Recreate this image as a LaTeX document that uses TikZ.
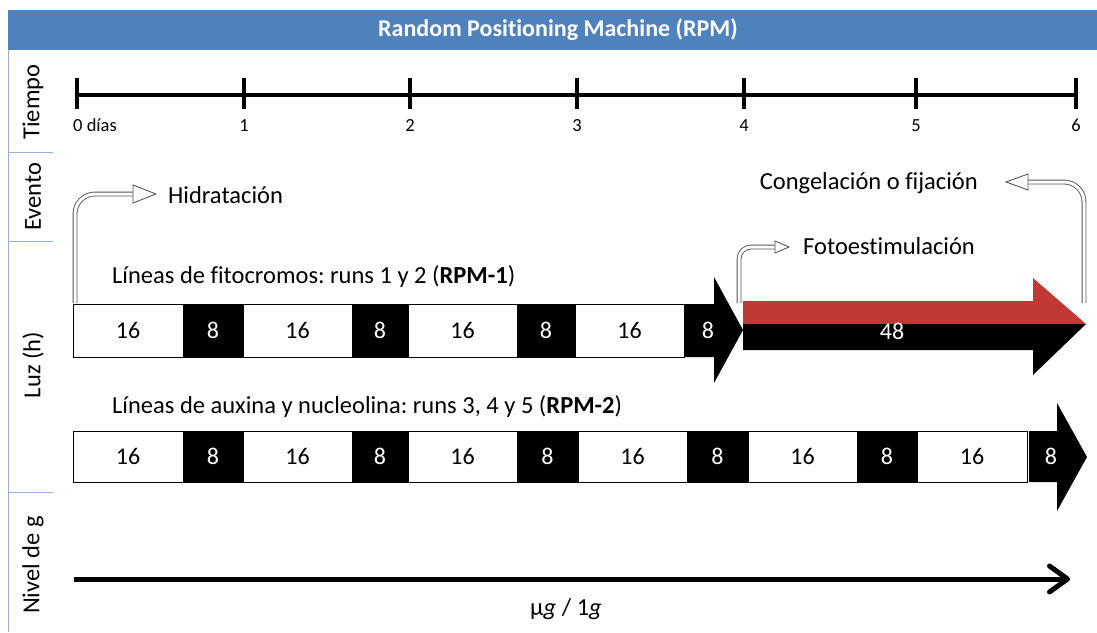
\documentclass[tikz,border=0pt]{standalone}
\usepackage{fontspec}
\setmainfont{Carlito}[Ligatures=NoCommon]
\usetikzlibrary{arrows.meta}
\definecolor{hdr}{RGB}{79,129,189}
\definecolor{sepblue}{RGB}{149,179,215}
\definecolor{rpmred}{RGB}{192,57,53}
\definecolor{bentgray}{RGB}{85,85,85}
\frenchspacing
\begin{document}
\begin{tikzpicture}[x=1pt,y=-1pt,
  lbl/.style={font=\fontsize{24.5}{28}\selectfont, inner sep=0pt},
  sidelbl/.style={font=\fontsize{24.5}{28}\selectfont, inner sep=0pt, rotate=90},
  tlbl/.style={font=\fontsize{18.5}{22}\selectfont, inner sep=0pt, anchor=base},
  numw/.style={font=\fontsize{24}{28}\selectfont, inner sep=0pt},
  numb/.style={font=\fontsize{24}{28}\selectfont, inner sep=0pt, text=white},
  wcell/.style={draw=black, line width=1pt, fill=white},
  bcell/.style={draw=black, line width=1pt, fill=black},
  bentshaft/.style={draw=bentgray, double=white, double distance=3pt, line width=0.9pt, rounded corners=20pt},
  benthead/.style={draw=bentgray, fill=white, line width=0.9pt, line join=miter},
  sepline/.style={draw=sepblue, line width=1pt},
  tick/.style={line width=3.5pt}
]
\useasboundingbox (0,0) rectangle (1097,632);

% header
\fill[hdr] (8,10) rectangle (1097,50);
\node[font=\fontsize{24}{28}\selectfont\bfseries, text=white, inner sep=0pt] (title) at (558,30) {Random Positioning Machine (RPM)};

% left column
\draw[sepline] (8,50) -- (8,632);
\draw[sepline] (8,152) -- (53,152);
\draw[sepline] (8,241) -- (53,241);
\draw[sepline] (8,492) -- (53,492);
\node[sidelbl] (ltiempo) at (33,102) {Tiempo};
\node[sidelbl] (levento) at (33,197) {Evento};
\node[sidelbl] (lluz) at (33,365) {Luz (h)};
\node[sidelbl] (lnivel) at (33,565) {Nivel de g};

% timeline
\coordinate (t0) at (77,95);
\coordinate (t6) at (1076,95);
\draw[line width=4pt] (t0) -- (t6);
\foreach \x/\n in {77/0,244/1,410/2,577/3,744/4,916/5,1076/6}{
  \draw[tick] (\x,78) -- (\x,109);
}
\node[tlbl, anchor=base west] (d0) at (73,131) {0 días};
\foreach \x/\n in {244/1,410/2,577/3,744/4,916/5,1076/6}{
  \node[tlbl] (d\n) at (\x,131) {\n};
}

% row 1
\node[lbl, anchor=base west] (row1) at (112,283) {Líneas de fitocromos: runs 1 y 2 (\textbf{RPM-1})};
\draw[wcell] (73,304) rectangle (183,357);
\draw[bcell] (183,304) rectangle (243,357);
\draw[wcell] (243,304) rectangle (352,357);
\draw[bcell] (352,304) rectangle (408,357);
\draw[wcell] (408,304) rectangle (517,357);
\draw[bcell] (517,304) rectangle (575,357);
\draw[wcell] (575,304) rectangle (684,357);
\fill[black] (684,304) -- (714,304) -- (714,277) -- (743,330) -- (714,383) -- (714,357) -- (684,357) -- cycle;
\node[numw] (a1) at (128,330.5) {16};
\node[numb] (a2) at (213,330.5) {8};
\node[numw] (a3) at (297.5,330.5) {16};
\node[numb] (a4) at (380,330.5) {8};
\node[numw] (a5) at (462.5,330.5) {16};
\node[numb] (a6) at (546,330.5) {8};
\node[numw] (a7) at (629.5,330.5) {16};
\node[numb] (a8) at (708,330.5) {8};

% 48 h arrow
\fill[rpmred] (743,301) -- (1033,301) -- (1033,278) -- (1086,324) -- (743,324) -- cycle;
\fill[black] (743,324) -- (1086,324) -- (1033,375) -- (1033,350) -- (743,350) -- cycle;
\node[numb] (a48) at (892,331) {48};

% row 2
\node[lbl, anchor=base west] (row2) at (112,413) {Líneas de auxina y nucleolina: runs 3, 4 y 5 (\textbf{RPM-2})};
\draw[wcell] (73,431) rectangle (183,482);
\draw[bcell] (183,431) rectangle (243,482);
\draw[wcell] (243,431) rectangle (352,482);
\draw[bcell] (352,431) rectangle (408,482);
\draw[wcell] (408,431) rectangle (517,482);
\draw[bcell] (517,431) rectangle (578,482);
\draw[wcell] (578,431) rectangle (687,482);
\draw[bcell] (687,431) rectangle (748,482);
\draw[wcell] (748,431) rectangle (857,482);
\draw[bcell] (857,431) rectangle (917,482);
\draw[wcell] (917,431) rectangle (1027,482);
\fill[black] (1029,431) -- (1057,431) -- (1057,403) -- (1087,457) -- (1057,511) -- (1057,482) -- (1029,482) -- cycle;
\node[numw] (b1) at (128,456.5) {16};
\node[numb] (b2) at (213,456.5) {8};
\node[numw] (b3) at (297.5,456.5) {16};
\node[numb] (b4) at (380,456.5) {8};
\node[numw] (b5) at (462.5,456.5) {16};
\node[numb] (b6) at (547.5,456.5) {8};
\node[numw] (b7) at (632.5,456.5) {16};
\node[numb] (b8) at (717.5,456.5) {8};
\node[numw] (b9) at (802.5,456.5) {16};
\node[numb] (b10) at (887,456.5) {8};
\node[numw] (b11) at (972,456.5) {16};
\node[numb] (b12) at (1051,456.5) {8};

% event labels
\node[lbl, anchor=base west] (hid) at (168,203) {Hidratación};
\node[lbl, anchor=base west] (foto) at (803,254) {Fotoestimulación};
\node[lbl, anchor=base east] (cong) at (978,189) {Congelación o fijación};

% bent arrows
\coordinate (h0) at (75,303);
\coordinate (h1) at (134,194);
\draw[bentshaft] (h0) |- (h1);
\draw[benthead] (133,185) -- (156,194) -- (133,203) -- cycle;

\coordinate (f0) at (739,303);
\coordinate (f1) at (776,247);
\draw[bentshaft, rounded corners=12pt] (f0) |- (f1);
\draw[benthead] (775,241) -- (789,247) -- (775,253) -- cycle;

\coordinate (c0) at (1084,303);
\coordinate (c1) at (1027,182);
\draw[bentshaft] (c0) |- (c1);
\draw[benthead] (1028,174) -- (1006,182) -- (1028,190) -- cycle;

% g level arrow
\coordinate (g0) at (74,579);
\coordinate (g1) at (1070,579);
\draw[line width=5pt, -{Straight Barb[length=18pt, width=26pt, round]}] (g0) -- (g1);
\node[lbl, anchor=base] (glbl) at (566,615) {μ\textit{g} / 1\textit{g}};
\end{tikzpicture}
\end{document}
